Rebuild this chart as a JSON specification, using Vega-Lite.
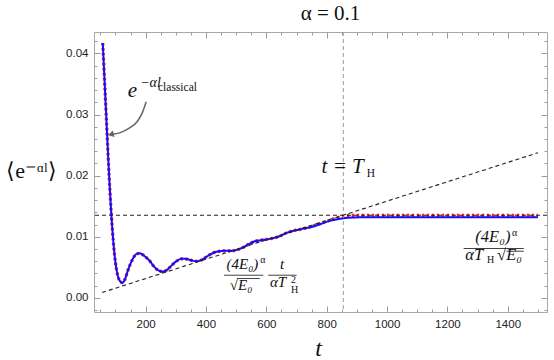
{
  "$schema": "https://vega.github.io/schema/vega-lite/v6.json",
  "autosize": "none",
  "width": 453,
  "height": 280,
  "padding": {"left": 94, "top": 32, "right": 7, "bottom": 48},
  "background": "white",
  "title": {"text": "α = 0.1", "font": "Liberation Serif", "fontSize": 21, "fontWeight": "normal", "color": "#111", "anchor": "middle", "dx": 10, "offset": 8},
  "config": {
    "view": {"stroke": "#a8a8a8", "strokeWidth": 1},
    "axis": {"domain": false, "grid": false, "tickColor": "#9a9a9a", "tickWidth": 1, "labelFont": "Liberation Sans", "labelFontSize": 11.5, "labelColor": "#222"}
  },
  "datasets": {
    "blue": [
      {"t": 58, "v": 0.0417}, {"t": 65, "v": 0.0345}, {"t": 72, "v": 0.0272}, {"t": 79, "v": 0.0200},
      {"t": 86, "v": 0.0140}, {"t": 93, "v": 0.0092}, {"t": 100, "v": 0.0058}, {"t": 108, "v": 0.0036},
      {"t": 116, "v": 0.0027}, {"t": 124, "v": 0.0025}, {"t": 132, "v": 0.0031}, {"t": 140, "v": 0.0043},
      {"t": 150, "v": 0.0056}, {"t": 160, "v": 0.0066}, {"t": 170, "v": 0.0072}, {"t": 180, "v": 0.0073},
      {"t": 190, "v": 0.0071}, {"t": 200, "v": 0.0067}, {"t": 213, "v": 0.0061}, {"t": 225, "v": 0.0053},
      {"t": 237, "v": 0.0047}, {"t": 247, "v": 0.0044}, {"t": 257, "v": 0.0043}, {"t": 268, "v": 0.0045},
      {"t": 280, "v": 0.0050}, {"t": 292, "v": 0.0056}, {"t": 305, "v": 0.0061}, {"t": 318, "v": 0.0064},
      {"t": 330, "v": 0.0064}, {"t": 342, "v": 0.0063}, {"t": 355, "v": 0.0061}, {"t": 368, "v": 0.0060},
      {"t": 380, "v": 0.0061}, {"t": 395, "v": 0.0065}, {"t": 410, "v": 0.0070}, {"t": 425, "v": 0.0074},
      {"t": 440, "v": 0.0076}, {"t": 460, "v": 0.0077}, {"t": 485, "v": 0.0077}, {"t": 505, "v": 0.0079},
      {"t": 525, "v": 0.0083}, {"t": 545, "v": 0.0089}, {"t": 565, "v": 0.0093}, {"t": 590, "v": 0.0095},
      {"t": 615, "v": 0.0097}, {"t": 640, "v": 0.0100}, {"t": 665, "v": 0.0106}, {"t": 690, "v": 0.0110},
      {"t": 720, "v": 0.0113}, {"t": 750, "v": 0.0116}, {"t": 780, "v": 0.0121}, {"t": 810, "v": 0.0126},
      {"t": 840, "v": 0.0129}, {"t": 870, "v": 0.0131}, {"t": 910, "v": 0.0132}, {"t": 1000, "v": 0.0132},
      {"t": 1200, "v": 0.0132}, {"t": 1500, "v": 0.0132}
    ],
    "red": [
      {"t": 58, "v": 0.0417}, {"t": 65, "v": 0.0345}, {"t": 72, "v": 0.0272}, {"t": 79, "v": 0.0200},
      {"t": 86, "v": 0.0140}, {"t": 93, "v": 0.0092}, {"t": 100, "v": 0.0058}, {"t": 108, "v": 0.0036},
      {"t": 116, "v": 0.0027}, {"t": 124, "v": 0.0025}, {"t": 132, "v": 0.0031}, {"t": 140, "v": 0.0043},
      {"t": 150, "v": 0.0056}, {"t": 160, "v": 0.0066}, {"t": 170, "v": 0.0072}, {"t": 180, "v": 0.0073},
      {"t": 190, "v": 0.0071}, {"t": 200, "v": 0.0067}, {"t": 213, "v": 0.0061}, {"t": 225, "v": 0.0053},
      {"t": 237, "v": 0.0047}, {"t": 247, "v": 0.0044}, {"t": 257, "v": 0.0043}, {"t": 268, "v": 0.0045},
      {"t": 280, "v": 0.0050}, {"t": 292, "v": 0.0056}, {"t": 305, "v": 0.0061}, {"t": 318, "v": 0.0064},
      {"t": 330, "v": 0.0064}, {"t": 342, "v": 0.0063}, {"t": 355, "v": 0.0061}, {"t": 368, "v": 0.0060},
      {"t": 380, "v": 0.0061}, {"t": 395, "v": 0.0065}, {"t": 410, "v": 0.0070}, {"t": 425, "v": 0.0074},
      {"t": 440, "v": 0.0076}, {"t": 460, "v": 0.0077}, {"t": 485, "v": 0.0077}, {"t": 505, "v": 0.0079},
      {"t": 525, "v": 0.0083}, {"t": 545, "v": 0.0089}, {"t": 565, "v": 0.0093}, {"t": 590, "v": 0.0095},
      {"t": 615, "v": 0.0097}, {"t": 640, "v": 0.0100}, {"t": 665, "v": 0.0106}, {"t": 690, "v": 0.0110},
      {"t": 720, "v": 0.0113}, {"t": 750, "v": 0.0117}, {"t": 780, "v": 0.0122}, {"t": 810, "v": 0.0127},
      {"t": 840, "v": 0.0132}, {"t": 860, "v": 0.01345}, {"t": 880, "v": 0.0135}, {"t": 1000, "v": 0.0135},
      {"t": 1200, "v": 0.0135}, {"t": 1500, "v": 0.0135}
    ],
    "slope": [{"t": 56, "v": 0.00089}, {"t": 1500, "v": 0.02375}],
    "tH": [{"t": 855}],
    "plateau": [{"v": 0.01353}],
    "arrow": [
      {"t": 90, "v": 0.0268}, {"t": 114, "v": 0.0270}, {"t": 147, "v": 0.0278},
      {"t": 173, "v": 0.0289}, {"t": 190, "v": 0.0304}, {"t": 202, "v": 0.03208}
    ],
    "arrowhead": [{"t": 85, "v": 0.02674}],
    "bars": [
      {"t": 460, "t2": 589.6, "v": 0.003715},
      {"t": 606.2, "t2": 700.5, "v": 0.003715},
      {"t": 504.5, "t2": 578.5, "v": 0.003175},
      {"t": 1253.8, "t2": 1453.1, "v": 0.008085},
      {"t": 1395.6, "t2": 1453.1, "v": 0.00764}
    ],
    "bigItalic": [
      {"t": 141, "v": 0.0329, "label": "e"},
      {"t": 783, "v": 0.02046, "label": "t = T"}
    ],
    "supItalic": [{"t": 182, "v": 0.03444, "label": "−αl"}],
    "subRoman": [
      {"t": 241, "v": 0.03388, "label": "classical"},
      {"t": 933, "v": 0.01975, "label": "H"}
    ],
    "frac1": [
      {"t": 468, "v": 0.00481, "label": "(4E₀)"},
      {"t": 479, "v": 0.001375, "label": "√E₀"},
      {"t": 645, "v": 0.00481, "label": "t"},
      {"t": 612, "v": 0.0018, "label": "αT"}
    ],
    "frac2": [
      {"t": 1292.6, "v": 0.009165, "label": "(4E₀)"},
      {"t": 1259.5, "v": 0.00617, "label": "αT"},
      {"t": 1364.7, "v": 0.00617, "label": "√E₀"}
    ],
    "small": [
      {"t": 580, "v": 0.00575, "label": "α"},
      {"t": 682, "v": 0.0024, "label": "2"},
      {"t": 682, "v": 0.00077, "label": "H"},
      {"t": 1414, "v": 0.0102, "label": "α"},
      {"t": 1331.5, "v": 0.00579, "label": "H"}
    ]
  },
  "layer": [
    {
      "data": {"name": "red"},
      "mark": {"type": "line", "color": "#ff1a1a", "strokeWidth": 3.2, "strokeDash": [2.5, 2.5], "interpolate": "monotone"},
      "encoding": {
        "x": {"field": "t", "type": "quantitative", "scale": {"domain": [29, 1530], "nice": false, "zero": false}, "axis": null},
        "y": {"field": "v", "type": "quantitative", "scale": {"domain": [-0.0023, 0.0435], "nice": false, "zero": false}, "axis": null}
      }
    },
    {
      "data": {"name": "blue"},
      "mark": {"type": "line", "color": "#1010ff", "strokeWidth": 2, "interpolate": "monotone"},
      "encoding": {
        "x": {"field": "t", "type": "quantitative", "scale": {"domain": [29, 1530], "nice": false, "zero": false},
          "axis": {"orient": "bottom", "title": "t", "titleFont": "Liberation Serif", "titleFontStyle": "italic", "titleFontWeight": "normal", "titleFontSize": 24, "titleColor": "#111", "titleX": 224, "titleY": 43, "titleAlign": "center", "titleBaseline": "alphabetic",
            "values": [200, 400, 600, 800, 1000, 1200, 1400], "format": "d", "ticks": false, "labelPadding": 6, "labelFlush": false}},
        "y": {"field": "v", "type": "quantitative", "scale": {"domain": [-0.0023, 0.0435], "nice": false, "zero": false},
          "axis": {"orient": "left", "title": "⟨e⁻ᵅˡ⟩", "titleFont": "Liberation Serif", "titleFontWeight": "normal", "titleFontSize": 22, "titleColor": "#111", "titleAngle": 0, "titleX": -63, "titleY": 145, "titleAlign": "center", "titleBaseline": "alphabetic",
            "values": [0, 0.01, 0.02, 0.03, 0.04], "format": ".2f", "ticks": false, "labelPadding": 6, "labelFlush": false}}
      }
    },
    {
      "data": {"name": "slope"},
      "mark": {"type": "line", "color": "#222", "strokeWidth": 1.1, "strokeDash": [4, 3]},
      "encoding": {
        "x": {"field": "t", "type": "quantitative", "scale": {"domain": [29, 1530], "nice": false, "zero": false},
          "axis": {"orient": "bottom", "offset": -280, "title": null, "labels": false,
            "values": [50, 100, 150, 200, 250, 300, 350, 400, 450, 500, 550, 600, 650, 700, 750, 800, 850, 900, 950, 1000, 1050, 1100, 1150, 1200, 1250, 1300, 1350, 1400, 1450, 1500],
            "tickSize": {"condition": {"test": "datum.value % 200 === 0", "value": 6}, "value": 3}}},
        "y": {"field": "v", "type": "quantitative", "scale": {"domain": [-0.0023, 0.0435], "nice": false, "zero": false},
          "axis": {"orient": "left", "offset": -453, "title": null, "labels": false,
            "values": [-0.002, 0, 0.002, 0.004, 0.006, 0.008, 0.01, 0.012, 0.014, 0.016, 0.018, 0.02, 0.022, 0.024, 0.026, 0.028, 0.03, 0.032, 0.034, 0.036, 0.038, 0.04, 0.042],
            "tickSize": {"condition": {"test": "abs(datum.value * 100 - round(datum.value * 100)) < 0.000001", "value": 6}, "value": 3}}}
      }
    },
    {
      "data": {"name": "tH"},
      "mark": {"type": "rule", "color": "#9a9a9a", "strokeWidth": 1, "strokeDash": [4, 3]},
      "encoding": {
        "x": {"field": "t", "type": "quantitative", "scale": {"domain": [29, 1530], "nice": false, "zero": false},
          "axis": {"orient": "top", "offset": -280, "title": null, "labels": false,
            "values": [50, 100, 150, 200, 250, 300, 350, 400, 450, 500, 550, 600, 650, 700, 750, 800, 850, 900, 950, 1000, 1050, 1100, 1150, 1200, 1250, 1300, 1350, 1400, 1450, 1500],
            "tickSize": {"condition": {"test": "datum.value % 200 === 0", "value": 6}, "value": 3}}}
      }
    },
    {
      "data": {"name": "plateau"},
      "mark": {"type": "rule", "color": "#222", "strokeWidth": 1.1, "strokeDash": [4, 3]},
      "encoding": {
        "y": {"field": "v", "type": "quantitative", "scale": {"domain": [-0.0023, 0.0435], "nice": false, "zero": false},
          "axis": {"orient": "right", "offset": -453, "title": null, "labels": false,
            "values": [-0.002, 0, 0.002, 0.004, 0.006, 0.008, 0.01, 0.012, 0.014, 0.016, 0.018, 0.02, 0.022, 0.024, 0.026, 0.028, 0.03, 0.032, 0.034, 0.036, 0.038, 0.04, 0.042],
            "tickSize": {"condition": {"test": "abs(datum.value * 100 - round(datum.value * 100)) < 0.000001", "value": 6}, "value": 3}}}
      }
    },
    {
      "data": {"name": "arrow"},
      "mark": {"type": "line", "color": "#666", "strokeWidth": 1.5, "interpolate": "monotone"},
      "encoding": {
        "x": {"field": "t", "type": "quantitative", "axis": null},
        "y": {"field": "v", "type": "quantitative", "axis": null}
      }
    },
    {
      "data": {"name": "arrowhead"},
      "mark": {"type": "point", "shape": "triangle-left", "filled": true, "color": "#666", "opacity": 1, "size": 45, "angle": -15},
      "encoding": {
        "x": {"field": "t", "type": "quantitative", "axis": null},
        "y": {"field": "v", "type": "quantitative", "axis": null}
      }
    },
    {
      "data": {"name": "bars"},
      "mark": {"type": "rule", "color": "#111", "strokeWidth": 0.8},
      "encoding": {
        "x": {"field": "t", "type": "quantitative", "axis": null},
        "x2": {"field": "t2"},
        "y": {"field": "v", "type": "quantitative", "axis": null}
      }
    },
    {
      "data": {"name": "bigItalic"},
      "mark": {"type": "text", "font": "Liberation Serif", "fontStyle": "italic", "fontSize": 21, "align": "left", "baseline": "alphabetic", "color": "#111"},
      "encoding": {
        "x": {"field": "t", "type": "quantitative", "axis": null},
        "y": {"field": "v", "type": "quantitative", "axis": null},
        "text": {"field": "label"}
      }
    },
    {
      "data": {"name": "supItalic"},
      "mark": {"type": "text", "font": "Liberation Serif", "fontStyle": "italic", "fontSize": 14, "align": "left", "baseline": "alphabetic", "color": "#111"},
      "encoding": {
        "x": {"field": "t", "type": "quantitative", "axis": null},
        "y": {"field": "v", "type": "quantitative", "axis": null},
        "text": {"field": "label"}
      }
    },
    {
      "data": {"name": "subRoman"},
      "mark": {"type": "text", "font": "Liberation Serif", "fontSize": 11.5, "align": "left", "baseline": "alphabetic", "color": "#111"},
      "encoding": {
        "x": {"field": "t", "type": "quantitative", "axis": null},
        "y": {"field": "v", "type": "quantitative", "axis": null},
        "text": {"field": "label"}
      }
    },
    {
      "data": {"name": "frac1"},
      "mark": {"type": "text", "font": "Liberation Serif", "fontStyle": "italic", "fontSize": 15, "align": "left", "baseline": "alphabetic", "color": "#111"},
      "encoding": {
        "x": {"field": "t", "type": "quantitative", "axis": null},
        "y": {"field": "v", "type": "quantitative", "axis": null},
        "text": {"field": "label"}
      }
    },
    {
      "data": {"name": "frac2"},
      "mark": {"type": "text", "font": "Liberation Serif", "fontStyle": "italic", "fontSize": 16.5, "align": "left", "baseline": "alphabetic", "color": "#111"},
      "encoding": {
        "x": {"field": "t", "type": "quantitative", "axis": null},
        "y": {"field": "v", "type": "quantitative", "axis": null},
        "text": {"field": "label"}
      }
    },
    {
      "data": {"name": "small"},
      "mark": {"type": "text", "font": "Liberation Serif", "fontSize": 10, "align": "left", "baseline": "alphabetic", "color": "#111"},
      "encoding": {
        "x": {"field": "t", "type": "quantitative", "axis": null},
        "y": {"field": "v", "type": "quantitative", "axis": null},
        "text": {"field": "label"}
      }
    }
  ],
  "resolve": {"axis": {"x": "independent", "y": "independent"}}
}
